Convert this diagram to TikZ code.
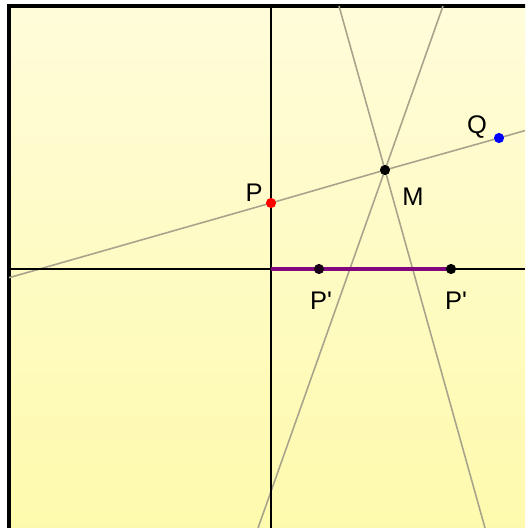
\documentclass[tikz,border=0pt]{standalone}
\usepackage{fontspec}
\setmainfont{Liberation Sans}
\usetikzlibrary{positioning}
\definecolor{mPaper}{HTML}{FFFCDA}
\definecolor{mPaperLow}{HTML}{FEFAAD}
\definecolor{mGuide}{HTML}{A8A48C}
\definecolor{mPurple}{HTML}{82067E}
\tikzset{
  guide/.style={draw=mGuide, line width=0.9pt},
  axis/.style={draw=black, line width=1.5pt},
  dot/.style={circle, fill=#1, inner sep=0pt, minimum size=5.8pt},
  lbl/.style={font=\fontsize{14.5}{14.5}\selectfont, inner sep=0pt}
}
\begin{document}
\begin{tikzpicture}[x=0.02cm, y=-0.02cm]
    \useasboundingbox (0,0) rectangle (525,528);
    \clip (0,0) rectangle (525,528);
    \shade[top color=mPaper, bottom color=mPaperLow] (9,6) rectangle (525,528);
    \draw[line width=1.8pt] (9,6) rectangle (540,540);
    % points
    \coordinate (P) at (271,203);
    \coordinate (Q) at (499,138);
    \coordinate (M) at (385,170);
    \coordinate (O) at (271,269);
    \coordinate (Pa) at (319,269);
    \coordinate (Pb) at (451,269);
    % free ends of the lines
    \coordinate (pq-l) at (9,277.7);
    \coordinate (pq-r) at (525,130.6);
    \coordinate (a-t) at (339,6);
    \coordinate (a-b) at (485,528);
    \coordinate (b-t) at (443,6);
    \coordinate (b-b) at (258,528);
    \coordinate (x-l) at (9,269);
    \coordinate (x-r) at (525,269);
    \coordinate (y-t) at (271,6);
    \coordinate (y-b) at (271,528);
    \draw[guide] (pq-l) -- (P) -- (M) -- (Q) -- (pq-r);
    \draw[guide] (a-t) -- (M) -- (a-b);
    \draw[guide] (b-t) -- (M) -- (b-b);
    \draw[axis] (x-l) -- (x-r);
    \draw[axis] (y-t) -- (y-b);
    \draw[mPurple, line width=2.4pt] (O) -- (Pb);
    \foreach \p/\c in {P/red, Q/blue, M/black, Pa/black!80!mPurple, Pb/black}
      \node[dot=\c] (d\p) at (\p) {};
    \node[lbl] (lP) at (254,193) {P};
    \node[lbl] (lQ) at (477,127) {Q};
    \node[lbl] (lM) at (413,197) {M};
    \node[lbl] (lPa) at (321,301) {P\textquotesingle};
    \node[lbl] (lPb) at (456,301) {P\textquotesingle};
  \end{tikzpicture}
\end{document}
